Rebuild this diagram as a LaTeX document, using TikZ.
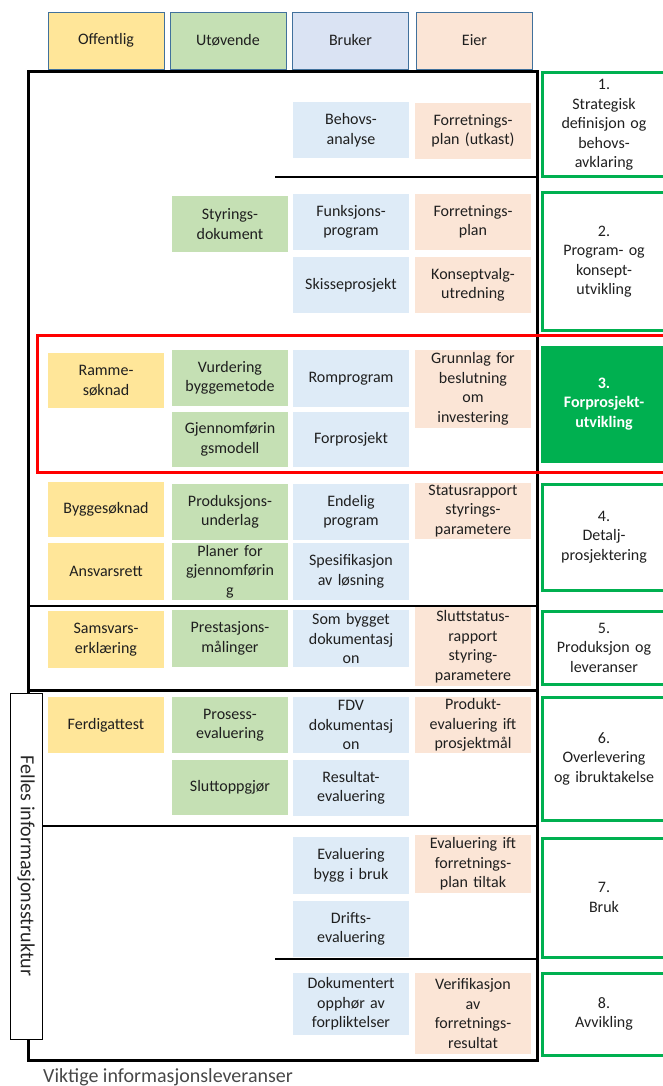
\documentclass[tikz,border=0pt]{standalone}
\usepackage{fontspec}
\setmainfont{Carlito}
\usepackage{xcolor}
\usepackage{tikz}

\definecolor{offgul}{HTML}{FFE699}
\definecolor{utgronn}{HTML}{C5E0B4}
\definecolor{brublaa}{HTML}{DEEBF7}
\definecolor{brublaahode}{HTML}{DAE3F3}
\definecolor{eierrosa}{HTML}{FBE5D6}
\definecolor{fasegronn}{HTML}{00B050}
\definecolor{hodekant}{HTML}{41719C}

\begin{document}
\begin{tikzpicture}[x=1pt,y=-1pt,
  tekst/.style={font=\fontsize{16}{19.5}\selectfont,align=center,text=black!88},
  hode/.style={tekst,draw=hodekant,line width=0.8,minimum width=116,minimum height=57},
  boks/.style={tekst,text width=112,inner sep=2,minimum height=56},
  off/.style={boks,fill=offgul},
  utf/.style={boks,fill=utgronn},
  bru/.style={boks,fill=brublaa},
  eie/.style={boks,fill=eierrosa},
  fase/.style={tekst,draw=fasegronn,line width=3,text width=118,inner sep=3},
  skille/.style={line width=2}]
\useasboundingbox (0,0) rectangle (663,1086);
\clip (0,0) rectangle (663,1086);

% roller
\node[hode,fill=offgul] (offentlig) at (106,40.5) {Offentlig};
\node[hode,fill=utgronn] (utovende) at (228,40.5) {Utøvende};
\node[hode,fill=brublaahode] (bruker) at (350.5,40.5) {Bruker};
\node[hode,fill=eierrosa] (eier) at (474.5,40.5) {Eier};

% ramme og skillelinjer
\draw[line width=3] (28,72) rectangle (537,1060);
\draw[skille] (275,177) -- (537,177);
\draw[skille] (28,606) -- (537,606);
\draw[line width=3] (28,690) -- (537,690);
\draw[skille] (42,826) -- (537,826);
\draw[skille] (275,959) -- (537,959);

% faser
\node[fase,minimum height=104] (fase1) at (604,125) {1.\\Strategisk\\definisjon og\\behovs-\\avklaring};
\node[fase,minimum height=137] (fase2) at (604,261.5) {2.\\Program- og\\konsept-\\utvikling};
\node[fase,minimum height=114,fill=fasegronn,text=white,font=\fontsize{16}{19.5}\selectfont\bfseries] (fase3) at (604,404) {3.\\Forprosjekt-\\utvikling};
\node[fase,minimum height=106] (fase4) at (604,537) {4.\\Detalj-\\prosjektering};
\node[fase,minimum height=73] (fase5) at (604,647.5) {5.\\Produksjon og\\leveranser};
\node[fase,minimum height=123] (fase6) at (604,758.5) {6.\\Overlevering\\og ibruktakelse};
\node[fase,minimum height=119] (fase7) at (604,897.5) {7.\\Bruk};
\node[fase,minimum height=82] (fase8) at (604,1014) {8.\\Avvikling};

% 1
\node[bru] (behov) at (351,130) {Behovs-\\analyse};
\node[eie] (forrutkast) at (473,131) {Forretnings-\\plan (utkast)};
% 2
\node[utf] (styring) at (230,224) {Styrings-\\dokument};
\node[bru] (funksjon) at (351,222) {Funksjons-\\program};
\node[eie] (forrplan) at (473,222) {Forretnings-\\plan};
\node[bru] (skisse) at (351,285) {Skisseprosjekt};
\node[eie] (konsept) at (473,285) {Konseptvalg-\\utredning};
% 3
\node[off,minimum height=55] (ramme) at (106,380.5) {Ramme-\\søknad};
\node[utf] (vurdering) at (230,378) {Vurdering\\byggemetode};
\node[bru,minimum height=57] (rom) at (351,378.5) {Romprogram};
\node[eie,minimum height=78] (grunnlag) at (473,389) {Grunnlag for\\beslutning\\om\\investering};
\node[utf,minimum height=55] (gjennom) at (230,439.5) {Gjennomførin\\gsmodell};
\node[bru,minimum height=55] (forprosjekt) at (351,439.5) {Forprosjekt};
% 4
\node[off,minimum height=55] (byggesoknad) at (106,509.5) {Byggesøknad};
\node[utf] (produksjon) at (230,512) {Produksjons-\\underlag};
\node[bru] (endelig) at (351,512) {Endelig\\program};
\node[eie,minimum height=54] (status) at (473,511) {Statusrapport\\styrings-\\parametere};
\node[off,minimum height=57] (ansvar) at (106,571.5) {Ansvarsrett};
\node[utf,minimum height=57] (planer) at (230,571.5) {Planer for\\gjennomførin\\g};
\node[bru,minimum height=57] (spesifikasjon) at (351,571.5) {Spesifikasjon\\av løsning};
% 5
\node[off,minimum height=57] (samsvar) at (106,639.5) {Samsvars-\\erklæring};
\node[utf,minimum height=57] (prestasjon) at (230,638.5) {Prestasjons-\\målinger};
\node[bru,minimum height=57] (sombygget) at (351,638.5) {Som bygget\\dokumentasj\\on};
\node[eie,minimum height=79] (sluttstatus) at (473,646.5) {Sluttstatus-\\rapport\\styring-\\parametere};
% 6
\node[off] (ferdig) at (106,725) {Ferdigattest};
\node[utf] (prosess) at (230,725) {Prosess-\\evaluering};
\node[bru] (fdv) at (351,725) {FDV\\dokumentasj\\on};
\node[eie] (produkt) at (473,725) {Produkt-\\evaluering ift\\prosjektmål};
\node[utf,minimum height=55] (slutt) at (230,787.5) {Sluttoppgjør};
\node[bru] (resultat) at (351,788) {Resultat-\\evaluering};
% 7
\node[bru,minimum height=57] (byggbruk) at (351,865.5) {Evaluering\\bygg i bruk};
\node[eie,minimum height=58] (evalift) at (473,864) {Evaluering ift\\forretnings-\\plan tiltak};
\node[bru] (drift) at (351,929) {Drifts-\\evaluering};
% 8
\node[bru,minimum height=62] (opphor) at (351,1004) {Dokumentert\\opphør av\\forpliktelser};
\node[eie,minimum height=81] (verifikasjon) at (473,1013.5) {Verifikasjon\\av\\forretnings-\\resultat};

% forprosjektfasen
\draw[red,line width=3] (37,335) rectangle (680,472);

\node[draw,fill=white,line width=0.8,rotate=-90,minimum width=346,minimum height=32,inner sep=0,
  font=\fontsize{20}{22}\selectfont,text=black!85] (felles) at (26,866) {Felles informasjonsstruktur};
\node[anchor=west,inner sep=0,font=\fontsize{20}{22}\selectfont,text=black!72] (viktige) at (43,1077) {Viktige informasjonsleveranser};
\end{tikzpicture}
\end{document}
